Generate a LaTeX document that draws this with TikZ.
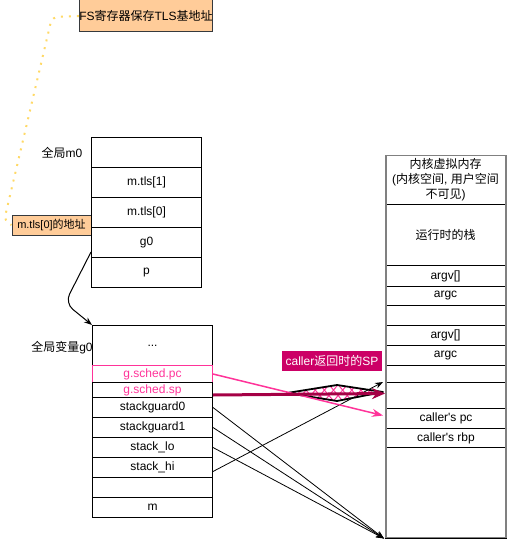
\documentclass[tikz,border=0pt]{standalone}
\usepackage{fontspec}
\setmainfont{Liberation Sans}[Ligatures=TeXOff]
\newfontfamily\cjk{Noto Sans CJK SC}
\usetikzlibrary{arrows.meta,patterns.meta}
\definecolor{peach}{HTML}{FFCC99}
\definecolor{peachline}{HTML}{36393D}
\definecolor{hotpink}{HTML}{FF3399}
\definecolor{darkmag}{HTML}{A50045}
\definecolor{labelmag}{HTML}{CC0066}
\definecolor{dotgold}{HTML}{FFD966}
\definecolor{outergray}{HTML}{808080}
\begin{document}
\begin{tikzpicture}[x=1pt,y=-1pt,
  txt/.style={font=\fontsize{12}{14}\selectfont},
  cell/.style={txt, draw, line width=1pt, inner sep=0pt, anchor=north west, minimum width=#1},
  mcell/.style={cell=110pt, minimum height=30pt},
  gcell/.style={cell=120pt},
  scell/.style={cell=120pt},
  note/.style={draw=peachline, fill=peach, line width=1pt, inner sep=0pt},
  thin/.style={line width=0.8pt, -{Stealth[length=8pt,width=6pt]}},
]
\useasboundingbox (0,0) rectangle (506,548);

% top note and dotted link
\node[note, txt, minimum width=130pt, minimum height=32pt] (fs) at (146,16) {FS{\cjk 寄存器保存}TLS{\cjk 基地址}};
\node[note, font=\fontsize{11}{13}\selectfont, minimum width=79pt, minimum height=20pt] (mt) at (51.5,225) {m.tls[0]{\cjk 的地址}};
\draw[dotgold, line width=2pt, dash pattern=on 2pt off 6pt, rounded corners=6pt]
  (fs.west) -- (52,17) -- (4,221) -- (mt.west);

% global m0
\node[txt] (m0lab) at (62,153) {{\cjk 全局}m0};
\node[mcell] (m0a) at (91,137) {};
\node[mcell] (m0b) at (91,167) {m.tls[1]};
\node[mcell] (m0c) at (91,197) {m.tls[0]};
\node[mcell] (m0d) at (91,227) {g0};
\node[mcell] (m0e) at (91,257) {p};

% global g0
\node[txt] (glab) at (62,348) {{\cjk 全局变量}g0};
\node[gcell, minimum height=40pt] (ga) at (92,325) {...};
\node[gcell, minimum height=17pt, draw=hotpink, text=hotpink] (gpc) at (92,365) {g.sched.pc};
\node[gcell, minimum height=15pt, text=hotpink] (gsp) at (92,382) {g.sched.sp};
\node[gcell, minimum height=20pt] (gsg0) at (92,397) {stackguard0};
\node[gcell, minimum height=20pt] (gsg1) at (92,417) {stackguard1};
\node[gcell, minimum height=20pt] (glo) at (92,437) {stack\_lo};
\node[gcell, minimum height=20pt] (ghi) at (92,457) {stack\_hi};
\node[gcell, minimum height=20pt] (gb) at (92,477) {};
\node[gcell, minimum height=20pt] (gm) at (92,497) {m};

\draw[line width=1pt, -{Stealth[length=8pt,width=6pt]}, rounded corners=10pt]
  ([yshift=6pt]m0d.south west) -- (65,303) -- (ga.north west);

% right stack
\node[scell, minimum height=49pt, align=center, font=\fontsize{12}{15}\selectfont] (sh) at (385,155)
  {{\cjk 内核虚拟内存}\\({\cjk 内核空间}, {\cjk 用户空间}\\{\cjk 不可见})};
\node[scell, minimum height=61pt] (srt) at (385,204) {{\cjk 运行时的栈}};
\node[scell, minimum height=21pt] (sa1) at (385,265) {argv[]};
\node[scell, minimum height=19pt] (sc1) at (385,286) {argc};
\node[scell, minimum height=20pt] (sb1) at (385,305) {};
\node[scell, minimum height=20pt] (sa2) at (385,325) {argv[]};
\node[scell, minimum height=20pt] (sc2) at (385,345) {argc};
\node[scell, minimum height=17pt] (sb2) at (385,365) {};
\node[scell, minimum height=26pt] (ssp) at (385,382) {};
\node[cell=119pt, minimum height=20pt] (spc) at (386,408) {caller's pc};
\node[cell=119pt, minimum height=19pt] (srbp) at (386,428) {caller's rbp};
\node[draw=outergray, line width=1.5pt, inner sep=0pt, anchor=north west, minimum width=120pt, minimum height=382pt] (souter) at (385,155) {};
\draw[line width=1pt] (souter.south west) -- (souter.south east);

% label
\node[fill=labelmag, text=white, font=\fontsize{12}{14}\selectfont, inner sep=0pt, minimum width=100pt, minimum height=20pt] (splab) at (332,361) {caller{\cjk 返回时的}SP};

% arrows to stack bottom
\draw[thin] (gsg0.east) -- ([xshift=-1pt]souter.south west);
\draw[thin] (gsg1.east) -- ([xshift=-1pt]souter.south west);
\draw[thin] (glo.east) -- ([xshift=-1pt]souter.south west);
\draw[thin] ([yshift=-4pt]ghi.east) -- ([xshift=-2pt]ssp.north west);

% sketchy flex arrow
\path[pattern={Lines[angle=50,distance=7pt,line width=1pt]}, pattern color=hotpink]
  (287,393) -- (337,385) -- (383,392) -- (337,401) -- cycle;
\path[pattern={Lines[angle=-50,distance=7pt,line width=1pt]}, pattern color=hotpink]
  (287,393) -- (337,385) -- (383,392) -- (337,401) -- cycle;
\draw[line width=1.8pt, line join=round] (287,393) -- (337,385) -- (383,392) -- (337,401) -- cycle;

% pink and magenta arrows
\draw[hotpink, line width=1.5pt, -{Stealth[length=11pt,width=8pt]}] (gpc.east) -- ([shift={(-3pt,3pt)}]spc.west);
\draw[darkmag, line width=3pt, -{Stealth[length=13pt,width=11pt]}] ([yshift=-5pt]gsp.east) -- ([yshift=2pt]ssp.west);
\end{tikzpicture}
\end{document}
